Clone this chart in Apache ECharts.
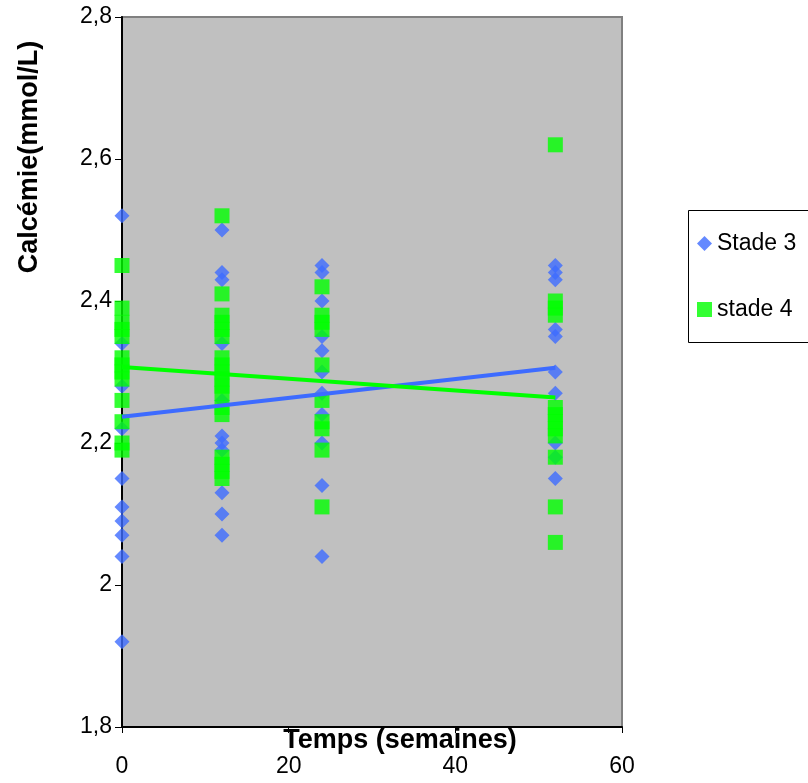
<!DOCTYPE html>
<html>
<head>
<meta charset="utf-8">
<script src="https://cdn.jsdelivr.net/npm/echarts@6/dist/echarts.min.js"></script>
<style>html,body{margin:0;padding:0;background:#fff}#c{width:808px;height:783px}</style>
</head>
<body>
<div id="c"></div>
<script>
// Weeks (x positions of measurement columns)
var weeks = [0, 12, 24, 52];
// Stade 3 values per week
var stade3_w0 = [2.52, 2.34, 2.28, 2.22, 2.15, 2.11, 2.09, 2.07, 2.04, 1.92];
var stade3_w12 = [2.50, 2.44, 2.43, 2.34, 2.26, 2.21, 2.20, 2.19, 2.13, 2.10, 2.07];
var stade3_w24 = [2.45, 2.44, 2.40, 2.35, 2.33, 2.30, 2.27, 2.24, 2.20, 2.14, 2.04];
var stade3_w52 = [2.45, 2.44, 2.43, 2.36, 2.35, 2.30, 2.27, 2.20, 2.18, 2.15];
// Stade 4 values per week
var stade4_w0 = [2.45, 2.39, 2.37, 2.36, 2.35, 2.32, 2.31, 2.30, 2.29, 2.26, 2.23, 2.20, 2.19];
var stade4_w12 = [2.52, 2.41, 2.38, 2.37, 2.36, 2.35, 2.32, 2.31, 2.30, 2.29, 2.28, 2.27, 2.25, 2.24, 2.18, 2.17, 2.16, 2.15];
var stade4_w24 = [2.42, 2.38, 2.37, 2.36, 2.31, 2.26, 2.23, 2.22, 2.19, 2.11];
var stade4_w52 = [2.62, 2.40, 2.39, 2.38, 2.25, 2.24, 2.23, 2.22, 2.21, 2.18, 2.11, 2.06];
// Trend line endpoints (x, y)
var trend3_x = [0, 52];
var trend3_y = [2.237, 2.306];
var trend4_x = [0, 52];
var trend4_y = [2.307, 2.264];
// Axis ticks
var yTicks = [1.8, 2.0, 2.2, 2.4, 2.6, 2.8];
var xTicks = [0, 20, 40, 60];

function pts(groups) {
  var out = [];
  groups.forEach(function (g, i) {
    g.forEach(function (v) { out.push([weeks[i], v]); });
  });
  return out;
}
function line(xs, ys) { return xs.map(function (x, i) { return [x, ys[i]]; }); }

var s3 = pts([stade3_w0, stade3_w12, stade3_w24, stade3_w52]);
var s4 = pts([stade4_w0, stade4_w12, stade4_w24, stade4_w52]);

var BLUE = '#3d6bff', GREEN = '#00ff00';
var FONT = '"Liberation Sans", Arial, sans-serif';

var chart = echarts.init(document.getElementById('c'), null, {renderer: 'canvas'});
chart.setOption({
  animation: false,
  backgroundColor: '#ffffff',
  grid: {
    left: 122, top: 17, right: 186, bottom: 56,
    show: true, backgroundColor: '#c0c0c0', borderColor: '#808080', borderWidth: 2
  },
  xAxis: {
    type: 'value', min: xTicks[0], max: xTicks[xTicks.length - 1], interval: 20,
    axisLine: {show: true, onZero: false, lineStyle: {color: '#000', width: 2}},
    axisTick: {show: true, length: 6, lineStyle: {color: '#000'}},
    splitLine: {show: false},
    axisLabel: {color: '#000', fontSize: 23, fontFamily: FONT, margin: 28}
  },
  yAxis: {
    type: 'value', min: yTicks[0], max: yTicks[yTicks.length - 1], interval: 0.2,
    axisLine: {show: true, onZero: false, lineStyle: {color: '#000', width: 2}},
    axisTick: {show: true, length: 7, lineStyle: {color: '#000'}},
    splitLine: {show: false},
    axisLabel: {
      color: '#000', fontSize: 23, fontFamily: FONT, margin: 10,
      formatter: function (v) { return (Math.round(v * 10) / 10).toString().replace('.', ','); }
    }
  },
  legend: {
    orient: 'vertical', left: 688, top: 210, z: 10,
    padding: [22, 10, 22, 9],
    itemGap: 43, itemWidth: 15, itemHeight: 15,
    borderWidth: 0, backgroundColor: 'transparent',
    textStyle: {color: '#000', fontSize: 23, fontFamily: FONT},
    data: [{name: 'Stade 3', icon: 'diamond'}, {name: 'stade 4', icon: 'rect'}]
  },
  graphic: [
    {type: 'rect', z: 1, shape: {x: 688.5, y: 210.5, width: 200, height: 132}, style: {fill: '#fff', stroke: '#000', lineWidth: 1}},
    {type: 'text', style: {text: 'Temps (semaines)', font: 'bold 27px ' + FONT, fill: '#000', textAlign: 'center', textVerticalAlign: 'middle', x: 400, y: 741}},
    {type: 'text', rotation: Math.PI / 2, x: 30, y: 157, style: {text: 'Calcémie(mmol/L)', font: 'bold 27px ' + FONT, fill: '#000', textAlign: 'center', textVerticalAlign: 'middle', x: 0, y: 0}}
  ],
  series: [
    {name: 'Stade 3', type: 'scatter', symbol: 'diamond', symbolSize: 15, itemStyle: {color: BLUE}, data: s3, z: 3},
    {name: 'stade 4', type: 'scatter', symbol: 'rect', symbolSize: 15, itemStyle: {color: GREEN}, data: s4, z: 4},
    {name: 'trend3', type: 'line', data: line(trend3_x, trend3_y), symbol: 'none', lineStyle: {color: BLUE, width: 4}, z: 5, silent: true},
    {name: 'trend4', type: 'line', data: line(trend4_x, trend4_y), symbol: 'none', lineStyle: {color: GREEN, width: 4}, z: 5, silent: true}
  ]
});
</script>
</body>
</html>
